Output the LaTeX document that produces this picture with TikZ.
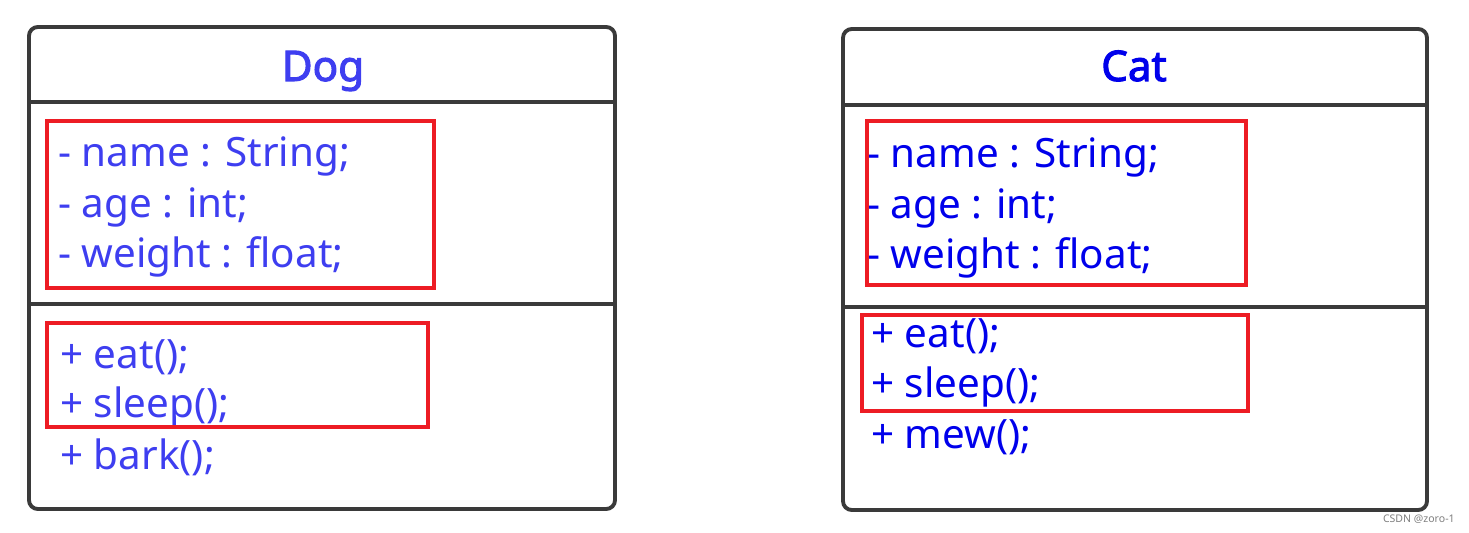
\documentclass[tikz,border=0pt]{standalone}
\usepackage{fontspec}
\setmainfont{Noto Sans}[AutoFakeBold=2.5]
\definecolor{boxgray}{RGB}{58,58,58}
\definecolor{framered}{RGB}{237,28,36}
\definecolor{dogblue}{RGB}{62,62,240}
\definecolor{catblue}{RGB}{0,0,235}
\begin{document}
\begin{tikzpicture}[x=0.02cm,y=-0.02cm,
  classbox/.style={draw=boxgray,line width=2.2pt,rounded corners=5pt},
  sepline/.style={draw=boxgray,line width=1.9pt},
  redframe/.style={draw=framered,line width=2.2pt},
  member/.style={anchor=base west,inner sep=0pt,font=\fontsize{23}{23}\selectfont},
  classname/.style={anchor=base,inner sep=0pt,font=\fontsize{24}{24}\selectfont\bfseries}]
\useasboundingbox (0,0) rectangle (1469,533);
% Dog
\draw[classbox] (29,27) rectangle (615,509);
\draw[sepline] (29,102) -- (615,102);
\draw[sepline] (29,304) -- (615,304);
\node[classname,text=dogblue] (dogtitle) at (323,81) {Dog};
\node[member,text=dogblue] (dogname) at (58,167) {- name : String;};
\node[member,text=dogblue] (dogage) at (58,218) {- age : int;};
\node[member,text=dogblue] (dogweight) at (58,268) {- weight : float;};
\node[member,text=dogblue] (dogeat) at (60,368) {+ eat();};
\node[member,text=dogblue] (dogsleep) at (60,417) {+ sleep();};
\node[member,text=dogblue] (dogbark) at (60,469) {+ bark();};
\draw[redframe] (47,121) rectangle (434,288);
\draw[redframe] (47,323) rectangle (428,427);
% Cat
\draw[classbox] (843,29) rectangle (1427,510);
\draw[sepline] (843,105) -- (1427,105);
\draw[sepline] (843,307) -- (1427,307);
\node[classname,text=catblue] (cattitle) at (1134,81) {Cat};
\node[member,text=catblue] (catname) at (867,168) {- name : String;};
\node[member,text=catblue] (catage) at (867,219) {- age : int;};
\node[member,text=catblue] (catweight) at (867,269) {- weight : float;};
\node[member,text=catblue] (cateat) at (871,347) {+ eat();};
\node[member,text=catblue] (catsleep) at (871,397) {+ sleep();};
\node[member,text=catblue] (catmew) at (871,448) {+ mew();};
\draw[redframe] (867,121) rectangle (1246,285);
\draw[redframe] (862,315) rectangle (1248,411);
\node[anchor=east,inner sep=0pt,text=gray,font=\fontsize{6}{6}\selectfont] (mark) at (1455,519) {CSDN @zoro-1};
\end{tikzpicture}
\end{document}
